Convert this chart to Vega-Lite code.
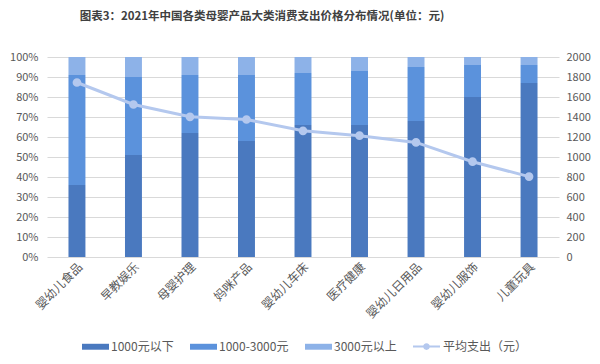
{
  "$schema": "https://vega.github.io/schema/vega-lite/v6.json",
  "autosize": "none",
  "width": 512,
  "height": 200,
  "padding": {"left": 47, "top": 57, "right": 41, "bottom": 107},
  "background": "white",
  "config": {
    "font": "Noto Sans CJK SC",
    "view": {"stroke": null},
    "axis": {"labelFont": "Noto Sans CJK SC", "labelColor": "#595959", "labelFontSize": 11, "ticks": false, "domain": false, "gridColor": "#d9d9d9", "title": null},
    "legend": {"labelFont": "Noto Sans CJK SC", "labelColor": "#595959", "labelFontSize": 12}
  },
  "title": {
    "text": "图表3：2021年中国各类母婴产品大类消费支出价格分布情况(单位：元)",
    "fontSize": 11.5,
    "fontWeight": "bold",
    "color": "#404040",
    "anchor": "middle",
    "dx": -41,
    "offset": 29
  },
  "datasets": {
    "bars": [
      {"品类": "婴幼儿食品", "价格区间": "1000元以下", "占比": 0.36, "序": 1},
      {"品类": "婴幼儿食品", "价格区间": "1000-3000元", "占比": 0.55, "序": 2},
      {"品类": "婴幼儿食品", "价格区间": "3000元以上", "占比": 0.09, "序": 3},
      {"品类": "早教娱乐", "价格区间": "1000元以下", "占比": 0.51, "序": 1},
      {"品类": "早教娱乐", "价格区间": "1000-3000元", "占比": 0.39, "序": 2},
      {"品类": "早教娱乐", "价格区间": "3000元以上", "占比": 0.10, "序": 3},
      {"品类": "母婴护理", "价格区间": "1000元以下", "占比": 0.62, "序": 1},
      {"品类": "母婴护理", "价格区间": "1000-3000元", "占比": 0.29, "序": 2},
      {"品类": "母婴护理", "价格区间": "3000元以上", "占比": 0.09, "序": 3},
      {"品类": "妈咪产品", "价格区间": "1000元以下", "占比": 0.58, "序": 1},
      {"品类": "妈咪产品", "价格区间": "1000-3000元", "占比": 0.33, "序": 2},
      {"品类": "妈咪产品", "价格区间": "3000元以上", "占比": 0.09, "序": 3},
      {"品类": "婴幼儿车床", "价格区间": "1000元以下", "占比": 0.66, "序": 1},
      {"品类": "婴幼儿车床", "价格区间": "1000-3000元", "占比": 0.26, "序": 2},
      {"品类": "婴幼儿车床", "价格区间": "3000元以上", "占比": 0.08, "序": 3},
      {"品类": "医疗健康", "价格区间": "1000元以下", "占比": 0.66, "序": 1},
      {"品类": "医疗健康", "价格区间": "1000-3000元", "占比": 0.27, "序": 2},
      {"品类": "医疗健康", "价格区间": "3000元以上", "占比": 0.07, "序": 3},
      {"品类": "婴幼儿日用品", "价格区间": "1000元以下", "占比": 0.68, "序": 1},
      {"品类": "婴幼儿日用品", "价格区间": "1000-3000元", "占比": 0.27, "序": 2},
      {"品类": "婴幼儿日用品", "价格区间": "3000元以上", "占比": 0.05, "序": 3},
      {"品类": "婴幼儿服饰", "价格区间": "1000元以下", "占比": 0.80, "序": 1},
      {"品类": "婴幼儿服饰", "价格区间": "1000-3000元", "占比": 0.16, "序": 2},
      {"品类": "婴幼儿服饰", "价格区间": "3000元以上", "占比": 0.04, "序": 3},
      {"品类": "儿童玩具", "价格区间": "1000元以下", "占比": 0.87, "序": 1},
      {"品类": "儿童玩具", "价格区间": "1000-3000元", "占比": 0.09, "序": 2},
      {"品类": "儿童玩具", "价格区间": "3000元以上", "占比": 0.04, "序": 3}
    ],
    "line": [
      {"品类": "婴幼儿食品", "平均支出": 1745},
      {"品类": "早教娱乐", "平均支出": 1525},
      {"品类": "母婴护理", "平均支出": 1402},
      {"品类": "妈咪产品", "平均支出": 1375},
      {"品类": "婴幼儿车床", "平均支出": 1262},
      {"品类": "医疗健康", "平均支出": 1213},
      {"品类": "婴幼儿日用品", "平均支出": 1146},
      {"品类": "婴幼儿服饰", "平均支出": 953},
      {"品类": "儿童玩具", "平均支出": 804}
    ]
  },
  "encoding": {
    "x": {
      "field": "品类",
      "type": "nominal",
      "sort": ["婴幼儿食品", "早教娱乐", "母婴护理", "妈咪产品", "婴幼儿车床", "医疗健康", "婴幼儿日用品", "婴幼儿服饰", "儿童玩具"],
      "scale": {"paddingInner": 0.7, "paddingOuter": 0.38},
      "axis": {"labelAngle": -45, "labelFontSize": 12, "labelPadding": 4, "grid": false}
    }
  },
  "layer": [
    {
      "data": {"name": "bars"},
      "mark": {"type": "bar"},
      "encoding": {
        "y": {
          "field": "占比",
          "type": "quantitative",
          "stack": "zero",
          "scale": {"domain": [0, 1]},
          "axis": {"format": ".0%", "tickCount": 10, "labelPadding": 9, "orient": "left"}
        },
        "color": {
          "field": "价格区间",
          "type": "nominal",
          "scale": {"domain": ["1000元以下", "1000-3000元", "3000元以上"], "range": ["#4a79bf", "#5b92dc", "#8db2e8"]},
          "legend": {
            "orient": "none",
            "legendX": 35,
            "legendY": 276,
            "direction": "horizontal",
            "title": null,
            "symbolType": "M-1,-0.22H1V0.22H-1Z",
            "symbolSize": 729,
            "symbolStrokeWidth": 0,
            "labelOffset": 2,
            "columnPadding": 16
          }
        },
        "order": {"field": "序", "type": "quantitative"}
      }
    },
    {
      "data": {"name": "line"},
      "mark": {"type": "line", "strokeWidth": 3, "point": {"filled": true, "size": 45, "color": "#b4c8ee"}},
      "encoding": {
        "y": {
          "field": "平均支出",
          "type": "quantitative",
          "scale": {"domain": [0, 2000]},
          "axis": {"orient": "right", "tickCount": 10, "format": "d", "grid": false, "labelPadding": 7}
        },
        "stroke": {
          "datum": "平均支出（元）",
          "type": "nominal",
          "scale": {"range": ["#b4c8ee"]},
          "legend": {
            "orient": "none",
            "legendX": 366,
            "legendY": 276,
            "title": null,
            "symbolType": "M-1,-0.08H1V0.08H-1Z M0.25,0A0.25,0.25 0 1,1 -0.25,0A0.25,0.25 0 1,1 0.25,0Z",
            "symbolSize": 729,
            "symbolStrokeWidth": 0,
            "symbolFillColor": "#b4c8ee",
            "labelOffset": 3
          }
        }
      }
    }
  ],
  "resolve": {"scale": {"y": "independent"}}
}
